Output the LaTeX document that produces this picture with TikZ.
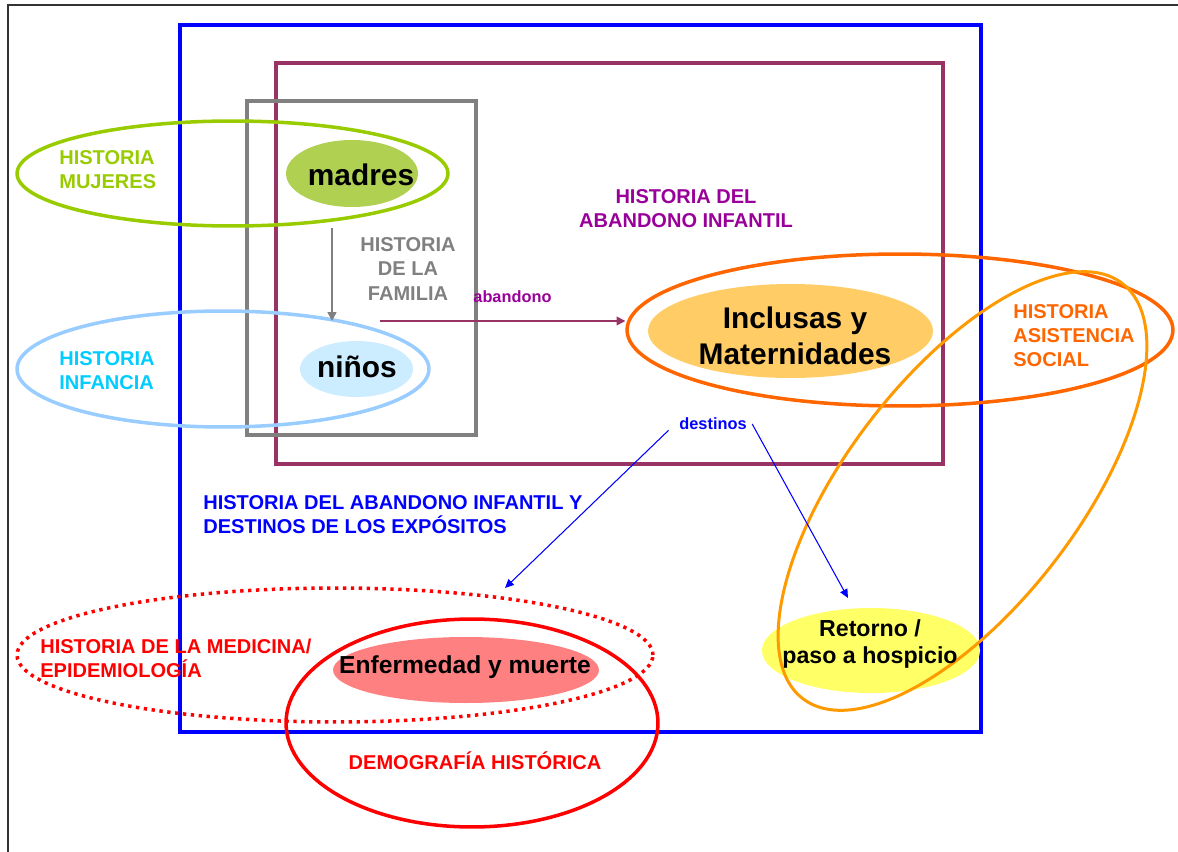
\documentclass[tikz,border=0pt]{standalone}
\usepackage{fontspec}
\setmainfont{Liberation Sans}
\usetikzlibrary{shapes.geometric,arrows.meta}

\definecolor{boxblue}{RGB}{0,0,255}
\definecolor{boxplum}{RGB}{153,51,102}
\definecolor{boxgray}{RGB}{128,128,128}
\definecolor{ringgreen}{RGB}{153,204,0}
\definecolor{ringsky}{RGB}{153,204,255}
\definecolor{textcyan}{RGB}{0,204,255}
\definecolor{ringorange}{RGB}{255,102,0}
\definecolor{ringamber}{RGB}{255,153,0}
\definecolor{textplum}{RGB}{153,0,153}
\definecolor{fillmadres}{RGB}{176,208,82}
\definecolor{fillninos}{RGB}{204,236,255}
\definecolor{fillinclusas}{RGB}{255,204,102}
\definecolor{fillretorno}{RGB}{255,255,102}
\definecolor{fillenf}{RGB}{255,128,128}

\begin{document}
\begin{tikzpicture}[x=0.02cm,y=-0.02cm,
		ring/.style={ellipse,draw,line width=2pt,inner sep=0pt},
		blob/.style={inner sep=0pt,align=center,font=\fontsize{17}{20.4}\selectfont\bfseries},
		histtext/.style={inner sep=0pt,font=\fontsize{11.4}{13.7}\selectfont\bfseries},
		smalltext/.style={inner sep=0pt,font=\fontsize{9.3}{11}\selectfont\bfseries}]
			\useasboundingbox (0,0) rectangle (1178,852);
			\coordinate (famline) at (332,321);
			\coordinate (abstart) at (380,321);
			\coordinate (destmed) at (505,588);
			\coordinate (destret) at (848,598);

			% Draw the frame and the boxes
			\draw[black!80,line width=0.6pt] (8,852) -- (8,5) -- (1178,5);
			\draw[boxblue,line width=2.1pt] (180,25) rectangle (981,732);
			\draw[boxplum,line width=2.1pt] (276,63) rectangle (943,464);
			\draw[boxgray,line width=2.1pt] (247,101) rectangle (476,435);

			% Filled topics
			\fill[fillmadres] (352,173.5) ellipse [x radius=66, y radius=33.5];
			\fill[fillninos] (356.5,369) ellipse [x radius=56.5, y radius=28];
			\fill[fillinclusas] (790.5,331) ellipse [x radius=142.5, y radius=47];
			\fill[fillenf] (466,670) ellipse [x radius=133, y radius=33];
			\fill[fillretorno] (871,650.5) ellipse [x radius=109, y radius=42.5];

			% Draw the rings
			\node[ring,draw=ringgreen,minimum width=8.62cm,minimum height=2.10cm] (ringmujeres) at (232.5,173.5) {};
			\node[ring,draw=ringsky,minimum width=8.24cm,minimum height=2.32cm] (ringinfancia) at (223,369) {};
			\node[ring,draw=ringorange,minimum width=10.92cm,minimum height=3.04cm] (ringinclusas) at (900,330) {};
			\node[ring,draw=ringamber,line width=1.7pt,minimum width=10.48cm,minimum height=4.64cm,rotate=52.4] (ringasistencia) at (962.5,491) {};
			\node[ring,draw=red,dash pattern=on 1.9pt off 2.6pt,minimum width=12.72cm,minimum height=2.68cm] (ringmedicina) at (335,655) {};
			\node[ring,draw=red,minimum width=7.44cm,minimum height=4.16cm] (ringdemografia) at (472,723) {};

			% Texts of the topics
			\node[blob] (madres) at (361,175) {madres};
			\node[blob] (ninos) at (357,367) {niños};
			\node[blob] (inclusas) at (795,336) {Inclusas y\\Maternidades};
			\node[blob,font=\fontsize{14}{16.8}\selectfont\bfseries] (enfermedad) at (465,667) {Enfermedad y muerte};
			\node[blob,font=\fontsize{13.2}{15.9}\selectfont\bfseries] (retorno) at (870,644) {Retorno /\\paso a hospicio};

			% Label the fields
			\node[histtext,text=ringgreen,anchor=west,align=left] (tmujeres) at (59,170) {HISTORIA\\MUJERES};
			\node[histtext,text=textcyan,anchor=west,align=left] (tinfancia) at (59,371) {HISTORIA\\INFANCIA};
			\node[histtext,text=boxgray,align=center] (tfamilia) at (408,269) {HISTORIA\\DE LA\\FAMILIA};
			\node[histtext,text=textplum,align=center] (tabandono) at (686,209) {HISTORIA DEL\\ABANDONO INFANTIL};
			\node[histtext,text=ringorange,anchor=west,align=left] (tasistencia) at (1013,336) {HISTORIA\\ASISTENCIA\\SOCIAL};
			\node[histtext,text=boxblue,anchor=west,align=left] (tdestinos) at (203,515) {HISTORIA DEL ABANDONO INFANTIL Y\\DESTINOS DE LOS EXPÓSITOS};
			\node[histtext,text=red,anchor=west,align=left] (tmedicina) at (40,658) {HISTORIA DE LA MEDICINA/\\EPIDEMIOLOGÍA};
			\node[histtext,text=red] (tdemografia) at (475,761) {DEMOGRAFÍA HISTÓRICA};
			\node[smalltext,text=boxblue] (destinos) at (713,424) {destinos};

			% Draw the arrows
			\draw[boxgray,line width=0.8pt,-{Triangle[length=5pt,width=5pt]}] (ringmujeres.south -| famline) -- (famline);
			\draw[boxplum,line width=0.8pt,-{Triangle[length=5pt,width=5pt]}] (abstart) -- (ringinclusas.west |- abstart)
				node[smalltext,text=textplum,pos=0.54,above=10pt] {abandono};
			\draw[boxblue,line width=0.6pt,-{Triangle[length=5pt,width=4.5pt]}] ([xshift=-6pt]destinos.south west) -- (destmed);
			\draw[boxblue,line width=0.6pt,-{Triangle[length=5pt,width=4.5pt]}] ([xshift=3pt]destinos.east) -- (destret);

		\end{tikzpicture}
\end{document}
